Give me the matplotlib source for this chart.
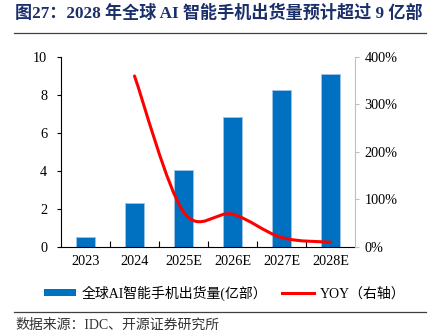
import matplotlib
matplotlib.use('Agg')
import matplotlib.pyplot as plt
from matplotlib.path import Path
from matplotlib.patches import PathPatch, Patch
from matplotlib.lines import Line2D
from matplotlib.ticker import FuncFormatter, FixedLocator

plt.rcParams['font.family'] = ['Liberation Serif', 'Noto Sans CJK SC', 'DejaVu Sans']

# Données
years = ['2023', '2024', '2025E', '2026E', '2027E', '2028E']
shipments = [0.52, 2.33, 4.05, 6.86, 8.26, 9.12]   # 亿部
yoy_years = ['2024', '2025E', '2026E', '2027E', '2028E']
yoy = [360, 74, 69, 20, 10]                        # %

bar_color = '#0070C0'
title_color = '#1B2F6B'

fig = plt.figure(figsize=(4.32, 3.34), dpi=100)
ax = fig.add_axes([0.1412, 0.2605, 0.6806, 0.5689])
ax2 = ax.twinx()

x = list(range(len(years)))
ax.bar(x, shipments, width=0.39, color=bar_color, edgecolor='#9DC3E6', linewidth=0.6, zorder=2)
ax.set_xlim(-0.5, len(years) - 0.5)
ax.set_ylim(0, 10)
ax.set_yticks([0, 2, 4, 6, 8, 10])
ax.set_xticks(x)
ax.set_xticklabels(years)
ax.xaxis.set_minor_locator(FixedLocator([i + 0.5 for i in range(len(years) - 1)]))
ax.tick_params(axis='x', which='major', length=0, pad=6, labelsize=10.3)
ax.tick_params(axis='x', which='minor', direction='in', length=4, width=0.8)
ax.tick_params(axis='y', length=3, width=0.8, pad=7, labelsize=10.3)
for s in ['top', 'right']:
    ax.spines[s].set_visible(False)
ax.spines['left'].set_linewidth(0.8)
ax.spines['bottom'].set_linewidth(0.8)

# Courbe lissée (spline type Catmull-Rom, comme Excel)
xi = [years.index(y) for y in yoy_years]
pts = list(zip(xi, yoy))
verts = [pts[0]]
codes = [Path.MOVETO]
n = len(pts)
for i in range(n - 1):
    p0 = pts[i - 1] if i > 0 else pts[i]
    p1 = pts[i]
    p2 = pts[i + 1]
    p3 = pts[i + 2] if i + 2 < n else pts[i + 1]
    c1 = (p1[0] + (p2[0] - p0[0]) / 6, p1[1] + (p2[1] - p0[1]) / 6)
    c2 = (p2[0] - (p3[0] - p1[0]) / 6, p2[1] - (p3[1] - p1[1]) / 6)
    verts += [c1, c2, p2]
    codes += [Path.CURVE4] * 3
ax2.add_patch(PathPatch(Path(verts, codes), facecolor='none', edgecolor='#FF0000',
                        linewidth=2.2, zorder=3, capstyle='round'))
ax2.set_ylim(0, 400)
ax2.set_yticks([0, 100, 200, 300, 400])
ax2.yaxis.set_major_formatter(FuncFormatter(lambda v, p: f'{v:.0f}%'))
ax2.tick_params(axis='y', length=3, width=0.8, color='#BFBFBF', pad=4, labelsize=10.3)
for s in ['top', 'left', 'bottom']:
    ax2.spines[s].set_visible(False)
ax2.spines['right'].set_color('#BFBFBF')
ax2.spines['right'].set_linewidth(0.8)

# Titre et lignes
fig.text(0.035, 0.961, '图27：2028 年全球 AI 智能手机出货量预计超过 9 亿部', fontsize=12.3,
         fontweight='bold', color=title_color, va='center', ha='left')
fig.add_artist(Line2D([0.033, 0.986], [0.901, 0.901], color='#404040', linewidth=0.9))
fig.add_artist(Line2D([0.033, 0.986], [0.066, 0.066], color='#404040', linewidth=0.9))
fig.text(0.035, 0.027, '数据来源：IDC、开源证券研究所', fontsize=10, color='#333333',
         va='center', ha='left')

handles = [Patch(facecolor=bar_color, edgecolor='none'),
           Line2D([], [], color='#FF0000', linewidth=2.2)]
labels = ['全球AI智能手机出货量(亿部）', 'YOY（右轴）']
fig.legend(handles, labels, loc='center', bbox_to_anchor=(0.52, 0.123), ncol=2,
           frameon=False, fontsize=10, handlelength=2.3, handleheight=0.45,
           handletextpad=0.4, columnspacing=1.1)

fig.savefig('out.png', dpi=100)
